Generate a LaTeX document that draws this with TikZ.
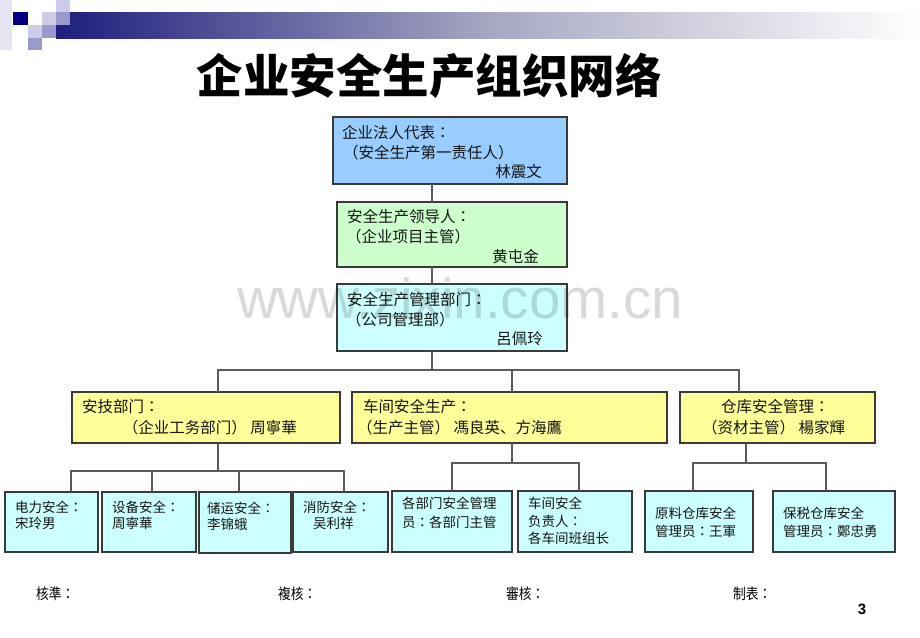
\documentclass[tikz,border=0pt]{standalone}
\usepackage{graphicx}
\usepackage{fontspec}
\setmainfont{Noto Sans CJK SC}
\newfontfamily\tcf{Noto Sans CJK TC}
\newfontfamily\latinsans{Liberation Sans}
\newcommand\qc{{\tcf ：}}
\definecolor{boxblue}{HTML}{99CCFF}
\definecolor{boxgreen}{HTML}{CCFFCC}
\definecolor{boxcyan}{HTML}{CCFFFF}
\definecolor{boxyellow}{HTML}{FFFF99}
\definecolor{boxline}{HTML}{3A3A3A}
\definecolor{connc}{HTML}{5A5A5A}
\definecolor{navy}{HTML}{000080}
\definecolor{barleft}{HTML}{1E1E7E}
\definecolor{barmid}{HTML}{A6A6C2}
\definecolor{sqlight}{HTML}{CCCCE8}
\definecolor{sqmid}{HTML}{9999CC}
\definecolor{sqfaint}{HTML}{E4E4F2}
\begin{document}
\begin{tikzpicture}[x=1pt,y=-1pt,
  box/.style={draw=boxline,line width=1.1pt,inner sep=0pt,outer sep=0pt},
  txt/.style={inner sep=0pt,anchor=west,text=black!92,font=\fontsize{15.5}{18}\selectfont},
  txtr/.style={txt,anchor=east},
  stxt/.style={inner sep=0pt,anchor=west,text=black!92,font=\fontsize{13.5}{16}\selectfont},
  conn/.style={draw=connc,line width=1.4pt},
  foot/.style={inner sep=0pt,anchor=west,text=black,font=\fontsize{15}{18}\selectfont}]
\useasboundingbox (0,0) rectangle (920,637);
\fill[white] (0,0) rectangle (920,637);
% header decoration
\shade[left color=barleft,right color=white,middle color=barmid] (56,12) rectangle (920,38);
\fill[sqfaint] (0,0) rectangle (12,50);
\fill[navy] (13,12) rectangle (28,25);
\fill[sqlight] (56,0) rectangle (70,12);
\fill[sqlight] (42,12) rectangle (56,25);
\fill[sqlight] (28,25) rectangle (42,38);
\fill[sqmid] (56,12) rectangle (70,25);
\fill[sqmid] (42,25) rectangle (56,38);
\fill[sqmid] (28,38) rectangle (42,50);
% title
\node[inner sep=0pt,font=\fontsize{46.5}{50}\selectfont\bfseries] (title) at (429,76) {企业安全生产组织网络};
% top boxes
\node[box,fill=boxblue,minimum width=234,minimum height=67] (b1) at (450,150.5) {};
\node[box,fill=boxgreen,minimum width=230,minimum height=65] (b2) at (452,234.5) {};
\node[box,fill=boxcyan,minimum width=230,minimum height=67] (b3) at (452,317.5) {};
% middle boxes
\node[box,fill=boxyellow,minimum width=268,minimum height=51] (y1) at (206,417.5) {};
\node[box,fill=boxyellow,minimum width=315,minimum height=51] (y2) at (509.5,417.5) {};
\node[box,fill=boxyellow,minimum width=195,minimum height=51] (y3) at (777.5,417.5) {};
% bottom boxes
\node[box,fill=boxcyan,minimum width=93,minimum height=60] (c1) at (51.5,522) {};
\node[box,fill=boxcyan,minimum width=94,minimum height=60] (c2) at (149,522) {};
\node[box,fill=boxcyan,minimum width=92,minimum height=61] (c3) at (245,522.5) {};
\node[box,fill=boxcyan,minimum width=95,minimum height=60] (c4) at (340.5,522) {};
\node[box,fill=boxcyan,minimum width=120,minimum height=61] (c5) at (452,521.5) {};
\node[box,fill=boxcyan,minimum width=114,minimum height=61] (c6) at (575,521.5) {};
\node[box,fill=boxcyan,minimum width=108,minimum height=61] (c7) at (699,521.5) {};
\node[box,fill=boxcyan,minimum width=122,minimum height=61] (c8) at (834,521.5) {};
% connectors
\coordinate (j0) at (432,370);
\coordinate (h1a) at (218,370);
\coordinate (h1b) at (512,370);
\coordinate (h1c) at (739,370);
\draw[conn] (b1.south -| j0) -- (b2.north -| j0);
\draw[conn] (b2.south -| j0) -- (b3.north -| j0);
\draw[conn] (b3.south -| j0) -- (j0);
\draw[conn] (y1.north -| h1a) -- (h1a) -- (h1c) -- (y3.north -| h1c);
\draw[conn] (h1b) -- (y2.north -| h1b);
\coordinate (g1m) at (218,471);
\coordinate (g1a) at (71,471);
\coordinate (g1b) at (152,471);
\coordinate (g1c) at (239,471);
\coordinate (g1d) at (344,471);
\draw[conn] (y1.south -| g1m) -- (g1m);
\draw[conn] (c1.north -| g1a) -- (g1a) -- (g1d) -- (c4.north -| g1d);
\draw[conn] (g1b) -- (c2.north -| g1b);
\draw[conn] (g1c) -- (c3.north -| g1c);
\coordinate (g2m) at (512,463);
\coordinate (g2a) at (452,463);
\coordinate (g2b) at (579,463);
\draw[conn] (y2.south -| g2m) -- (g2m);
\draw[conn] (c5.north -| g2a) -- (g2a) -- (g2b) -- (c6.north -| g2b);
\coordinate (g3m) at (746,463);
\coordinate (g3a) at (693,463);
\coordinate (g3b) at (826,463);
\draw[conn] (y3.south -| g3m) -- (g3m);
\draw[conn] (c7.north -| g3a) -- (g3a) -- (g3b) -- (c8.north -| g3b);
% watermark
\node[inner sep=0pt,anchor=base,text=black,opacity=0.15,font=\latinsans\fontsize{56.5}{60}\selectfont] (wm) at (460,318) {www.zixin.com.cn};
% texts top boxes
\node[txt] (t1a) at (342,133) {企业法人代表\qc};
\node[txt] (t1b) at (343,153) {（安全生产第一责任人）};
\node[txtr] (t1c) at (542,172) {林震文};
\node[txt] (t2a) at (347,217) {安全生产领导人\qc};
\node[txt] (t2b) at (346,237) {（企业项目主管）};
\node[txtr] (t2c) at (539,257) {黄屯金};
\node[txt] (t3a) at (347,300) {安全生产管理部门\qc};
\node[txt] (t3b) at (346,320) {（公司管理部）};
\node[txtr] (t3c) at (543,339) {呂佩玲};
% texts middle
\node[txt] (u1a) at (82,407) {安技部门\qc};
\node[txtr] (u1b) at (297,428) {（企业工务部门） 周寧華};
\node[txt] (u2a) at (363,407) {车间安全生产\qc};
\node[txt] (u2b) at (357,428) {（生产主管） 馮良英、方海鷹};
\node[txt] (u3a) at (721,407) {仓库安全管理\qc};
\node[txt] (u3b) at (702,428) {（资材主管） 楊家輝};
% texts bottom
\node[stxt] (v1a) at (15,507) {电力安全\qc};
\node[stxt] (v1b) at (15,523) {宋玲男};
\node[stxt] (v2a) at (112,507) {设备安全\qc};
\node[stxt] (v2b) at (112,523) {周寧華};
\node[stxt] (v3a) at (207,508) {储运安全\qc};
\node[stxt] (v3b) at (207,524) {李锦蛾};
\node[stxt] (v4a) at (303,507) {消防安全\qc};
\node[stxt] (v4b) at (313,523) {吴利祥};
\node[stxt] (v5a) at (402,503) {各部门安全管理};
\node[stxt] (v5b) at (402,522) {员\qc 各部门主管};
\node[stxt] (v6a) at (528,503) {车间安全};
\node[stxt] (v6b) at (528,521) {负责人\qc};
\node[stxt] (v6c) at (528,538) {各车间班组长};
\node[stxt] (v7a) at (655,513) {原料仓库安全};
\node[stxt] (v7b) at (655,531) {管理员\qc 王軍};
\node[stxt] (v8a) at (783,513) {保税仓库安全};
\node[stxt] (v8b) at (783,531) {管理员\qc 鄭忠勇};
% footer
\node[foot] (f1) at (36,594) {\scalebox{0.85}[1]{核準\qc}};
\node[foot] (f2) at (278,594) {\scalebox{0.85}[1]{複核\qc}};
\node[foot] (f3) at (506,594) {\scalebox{0.85}[1]{審核\qc}};
\node[foot] (f4) at (733,594) {\scalebox{0.85}[1]{制表\qc}};
\node[inner sep=0pt,font=\latinsans\bfseries\fontsize{15}{18}\selectfont] (pg) at (862,609) {3};
\end{tikzpicture}
\end{document}
